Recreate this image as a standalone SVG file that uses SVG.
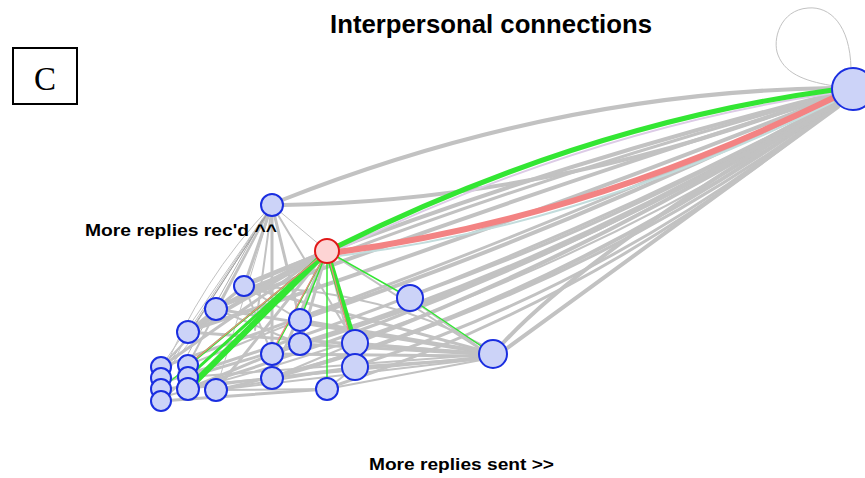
<svg xmlns="http://www.w3.org/2000/svg" width="865" height="478" viewBox="0 0 865 478">
<style>
text{font-family:"Liberation Sans",Arial,sans-serif;fill:#000}
.e{fill:none;stroke:#c2c2c2;stroke-linecap:round}
.w4{stroke-width:4}
.w3{stroke-width:3}
.w2{stroke-width:2}
.w1{stroke-width:1}
.dk{stroke:#9a9a9a;stroke-width:0.8}
.grn{stroke:#33e633}
.red{stroke:#f38383}
.lav{stroke:#dccbe6}
.tea{stroke:#c3dcdc}
.n circle{fill:#ccd3f8;stroke:#1a2ee0;stroke-width:2}
.r circle{fill:#fdd4d4;stroke:#e01818;stroke-width:2}
</style>
<rect width="865" height="478" fill="#fff"/>

<g id="connectors">
<!-- self loop -->
<path class="e w1" d="M851,68 C850,25 830,6 808,8 C780,10 772,40 778,55 C786,76 810,82 834,86"/>

<!-- left cluster internal / fan from T -->
<path class="e w3" d="M272,205 L244,286"/>
<path class="e w2" d="M272,205 L216,309"/>
<path class="e w1" d="M272,205 L188,332"/>
<path class="e w1" d="M272,205 L161,367"/>
<path class="e w1" d="M272,205 Q200,280 161,378"/>
<path class="e w3" d="M272,205 L300,320"/>
<path class="e w3" d="M272,205 L272,354"/>
<path class="e w2" d="M272,205 L255,330"/>
<path class="e w1" d="M272,205 L327,251"/>
<path class="e w2" d="M272,205 L355,343"/>
<path class="e w2" d="M272,205 L188,365"/>
<path class="e w1" d="M272,205 L216,390"/>
<path class="dk e" d="M270,210 L170,362"/>
<path class="dk e" d="M268,212 L192,330"/>
<path class="dk e" d="M262,220 L178,372"/>

<!-- from R to left cluster (gray) -->
<path class="e w4" d="M327,251 L244,286"/>
<path class="e w4" d="M327,251 L216,309"/>
<path class="e w4" d="M327,251 L188,332"/>
<path class="e w3" d="M327,251 L161,367"/>
<path class="e w3" d="M327,251 L216,390"/>
<path class="e w3" d="M327,251 L272,378"/>
<path class="e w3" d="M327,251 L300,344"/>
<path class="e w2" d="M327,251 L161,401"/>
<path class="e w2" d="M327,251 L355,367"/>

<!-- cluster links -->
<path class="e w3" d="M188,332 L244,286"/>
<path class="e w2" d="M161,367 L216,309"/>
<path class="e w2" d="M188,365 L300,320"/>
<path class="e w3" d="M188,377 L300,344"/>
<path class="e w3" d="M188,389 L272,354"/>
<path class="e w2" d="M161,389 L272,378"/>
<path class="e w3" d="M161,401 L327,389"/>
<path class="e w2" d="M188,389 L355,367"/>
<path class="e w2" d="M216,390 L355,367"/>
<path class="e w2" d="M272,378 L355,343"/>
<path class="e w2" d="M216,309 L300,344"/>
<path class="e w2" d="M244,286 L300,320"/>
<path class="e w2" d="M244,286 L272,354"/>
<path class="e w1" d="M161,378 L216,309"/>
<path class="e w1" d="M161,389 L188,332"/>
<path class="e w2" d="M327,389 L355,367"/>
<path class="e w2" d="M216,390 L327,389"/>

<!-- edges to N5 -->
<path class="e w3" d="M244,286 L480,350"/>
<path class="e w3" d="M216,309 L480,352"/>
<path class="e w3" d="M188,332 L480,353"/>
<path class="e w2" d="M188,377 L480,355"/>
<path class="e w2" d="M161,389 L480,357"/>
<path class="e w3" d="M300,320 L480,351"/>
<path class="e w3" d="M300,344 L480,354"/>
<path class="e w3" d="M272,354 L480,356"/>
<path class="e w2" d="M272,378 L480,358"/>
<path class="e w3" d="M355,343 L480,354"/>
<path class="e w3" d="M355,367 L480,359"/>
<path class="e w2" d="M327,389 L481,360"/>
<path class="e w2" d="M216,390 L481,359"/>
<path class="e w2" d="M410,298 L480,348"/>
<path class="e w2" d="M327,251 L480,349"/>
<path class="e w2" d="M244,286 Q380,290 482,345"/>

<!-- edges to B -->
<path class="e w4" d="M282,200 Q557,92 833,88"/>
<path class="e w4" d="M283,205 Q560,200 834,93"/>
<path class="e w4" d="M253,281 Q520,172 834,94"/>
<path class="e w3" d="M240,292 Q520,180 834,95"/>
<path class="e w4" d="M225,304 Q520,195 834,96"/>
<path class="e w4" d="M197,328 Q520,222 834,97"/>
<path class="e w3" d="M170,364 Q500,250 835,99"/>
<path class="e w4" d="M310,316 Q560,232 835,98"/>
<path class="e w3" d="M310,340 Q570,258 835,100"/>
<path class="e w4" d="M282,350 Q560,268 835,101"/>
<path class="e w3" d="M422,292 Q620,222 836,100"/>
<path class="e w4" d="M368,338 Q600,248 836,102"/>
<path class="e w3" d="M198,385 Q520,288 836,103"/>
<path class="e w4" d="M282,375 Q560,298 836,104"/>
<path class="e w3" d="M368,362 Q620,278 837,104"/>
<path class="e w3" d="M337,385 Q600,298 837,105"/>
<path class="e w3" d="M226,388 Q560,310 837,106"/>
<path class="e w3" d="M170,380 Q520,270 836,102"/>
<path class="e w4" d="M503,343 Q590,250 836,104"/>
<path class="e w4" d="M506,349 L838,107"/>
<path class="e w2" d="M170,395 Q540,300 837,105"/>

<!-- tinted companions -->
<path class="e w2 lav" d="M338,250 Q585,130 833,93"/>
<path class="e w2 tea" d="M338,256 Q585,226 833,102"/>

<!-- green edges -->
<path class="e grn" stroke-width="5" d="M338,246 Q585,124 833,90"/>
<path class="e grn" stroke-width="1.5" d="M327,251 L410,298"/>
<path class="e grn" stroke-width="1.5" d="M410,298 L493,354"/>
<path class="e grn" stroke-width="1.5" d="M327,251 L327,389"/>
<path class="e grn" stroke-width="1.5" d="M327,251 L300,320"/>
<path class="e grn" stroke-width="1.5" d="M327,251 L272,354"/>
<path class="e grn" stroke-width="1.5" d="M327,251 L188,365"/>
<path class="e grn" stroke-width="1.2" d="M327,251 L161,389"/>
<path class="e grn" stroke-width="3" d="M327,251 L188,377"/>
<path class="e grn" stroke-width="6" d="M327,251 L188,389"/>
<path class="e grn" stroke-width="5" d="M327,251 L355,343"/>

<!-- red edges -->
<path class="e red" stroke-width="6" d="M338,252 Q585,219 833,98"/>
<path class="e red" stroke-width="1.2" d="M327,251 L188,365"/>
<path class="e red" stroke-width="1.2" d="M327,251 L275,346"/>
<path class="e red" stroke-width="1.2" d="M327,251 L349,333"/>
</g>

<g id="nodes">
<g id="B" class="n"><circle cx="853" cy="89" r="21"/></g>
<g id="T" class="n"><circle cx="272" cy="205" r="11"/></g>
<g id="N4" class="n"><circle cx="410" cy="298" r="13"/></g>
<g id="N5" class="n"><circle cx="493" cy="354" r="14"/></g>
<g id="N6a" class="n"><circle cx="355" cy="343" r="13"/></g>
<g id="N6b" class="n"><circle cx="355" cy="367" r="13"/></g>
<g id="N7a" class="n"><circle cx="300" cy="320" r="11"/></g>
<g id="N7b" class="n"><circle cx="300" cy="344" r="11"/></g>
<g id="N8a" class="n"><circle cx="272" cy="354" r="11"/></g>
<g id="N8b" class="n"><circle cx="272" cy="378" r="11"/></g>
<g id="N9" class="n"><circle cx="327" cy="389" r="11"/></g>
<g id="N10" class="n"><circle cx="244" cy="286" r="10"/></g>
<g id="N11" class="n"><circle cx="216" cy="309" r="11"/></g>
<g id="N12" class="n"><circle cx="188" cy="332" r="11"/></g>
<g id="N13" class="n"><circle cx="216" cy="390" r="11"/></g>
<g id="N14a" class="n"><circle cx="188" cy="365" r="10"/></g>
<g id="N14b" class="n"><circle cx="188" cy="377" r="10"/></g>
<g id="N14c" class="n"><circle cx="188" cy="389" r="11"/></g>
<g id="N15a" class="n"><circle cx="161" cy="367" r="10"/></g>
<g id="N15b" class="n"><circle cx="161" cy="378" r="10"/></g>
<g id="N15c" class="n"><circle cx="161" cy="389" r="10"/></g>
<g id="N15d" class="n"><circle cx="161" cy="401" r="10"/></g>
<g id="R" class="r"><circle cx="327" cy="251" r="12"/></g>
</g>

<g id="labels">
<rect x="13" y="48" width="64" height="56" fill="#fff" stroke="#000" stroke-width="2"/>
<text x="45" y="90" font-size="33" text-anchor="middle" style="font-family:'Liberation Serif',serif">C</text>
<text x="330" y="33" font-size="26" font-weight="bold" textLength="322" lengthAdjust="spacingAndGlyphs">Interpersonal connections</text>
<text x="85" y="236" font-size="17" font-weight="bold" textLength="192" lengthAdjust="spacingAndGlyphs">More replies rec'd ^^</text>
<text x="369" y="470" font-size="17" font-weight="bold" textLength="185" lengthAdjust="spacingAndGlyphs">More replies sent &gt;&gt;</text>
</g>
</svg>
